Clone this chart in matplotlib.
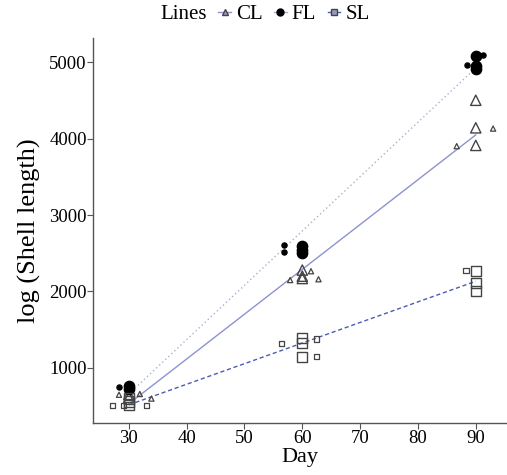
import numpy as np
import matplotlib
matplotlib.use("Agg")
import matplotlib.pyplot as plt
from matplotlib.lines import Line2D

plt.rcParams["font.family"] = ["Liberation Serif", "DejaVu Serif"]

# Mean points (big markers) per line
cl_big_x = [30, 30, 60, 60, 60, 90, 90, 90]
cl_big_y = [655, 615, 2280, 2200, 2170, 4500, 4140, 3910]
fl_big_x = [30, 30, 60, 60, 60, 90, 90, 90]
fl_big_y = [760, 720, 2590, 2545, 2500, 5080, 4950, 4905]
sl_big_x = [30, 30, 30, 60, 60, 60, 90, 90, 90]
sl_big_y = [600, 560, 515, 1390, 1325, 1140, 2270, 2110, 2010]

# Jittered observations (small markers)
cl_small_x = [28.3, 31.9, 33.9, 57.9, 61.5, 62.8, 86.7, 93.0]
cl_small_y = [650, 660, 600, 2150, 2265, 2160, 3900, 4130]
fl_small_x = [28.3, 56.8, 56.9, 91.3, 88.5]
fl_small_y = [750, 2610, 2510, 5090, 4960]
sl_small_x = [27.2, 29.1, 33.1, 56.4, 62.5, 62.5, 88.3]
sl_small_y = [510, 510, 510, 1325, 1380, 1150, 2270]

fig = plt.figure(figsize=(5.07, 4.75), dpi=100)
ax = fig.add_axes([0.1834, 0.1095, 0.8166, 0.8105])

edge = "#444444"
groups = [
    ("CL", "^", "none", edge, "#8c93cf", "-", cl_big_x, cl_big_y, cl_small_x, cl_small_y),
    ("FL", "o", "black", "black", "#aab0cc", (0, (1, 2)), fl_big_x, fl_big_y, fl_small_x, fl_small_y),
    ("SL", "s", "none", edge, "#4a5cb5", (0, (3, 2)), sl_big_x, sl_big_y, sl_small_x, sl_small_y),
]

handles = []
for name, mk, fc, ec, lc, ls, bx, by, sx, sy in groups:
    allx = np.array(bx + sx, dtype=float)
    ally = np.array(by + sy, dtype=float)
    k, b = np.polyfit(allx, ally, 1)
    xs = np.array([30, 90])
    ax.plot(xs, k * xs + b, color=lc, linestyle=ls, linewidth=1.0, zorder=1)
    ax.scatter(bx, by, marker=mk, s=55, facecolors=fc, edgecolors=ec, linewidths=1.0, zorder=3)
    ax.scatter(sx, sy, marker=mk, s=14, facecolors=fc, edgecolors=ec, linewidths=0.9, zorder=3)
    handles.append(Line2D([0], [0], color=lc, linestyle="-", linewidth=1.0, marker=mk,
                          markersize=5, markerfacecolor=fc if fc != "none" else "#9a9ab8",
                          markeredgecolor=ec, label=name))

ax.set_xlim(23.8, 95.4)
ax.set_ylim(281, 5314)
ax.set_xticks([30, 40, 50, 60, 70, 80, 90])
ax.set_yticks([1000, 2000, 3000, 4000, 5000])
ax.spines["top"].set_visible(False)
ax.spines["right"].set_visible(False)
for s in ["left", "bottom"]:
    ax.spines[s].set_color("#555555")
    ax.spines[s].set_linewidth(1.0)
ax.tick_params(length=4, color="#555555", labelsize=13.5, pad=1)
ax.tick_params(axis="y", pad=0.5)
ax.set_xlabel("Day", fontsize=16, labelpad=1)
ax.set_ylabel("log (Shell length)", fontsize=19, labelpad=6)

fig.text(0.316, 0.97, "Lines", fontsize=15, va="center")
fig.legend(handles=handles, ncol=3, frameon=False, fontsize=15,
           loc="center left", bbox_to_anchor=(0.41, 0.97),
           handlelength=0.6, handletextpad=0.25, columnspacing=0.55, borderpad=0)

fig.savefig("out.png", dpi=100)
